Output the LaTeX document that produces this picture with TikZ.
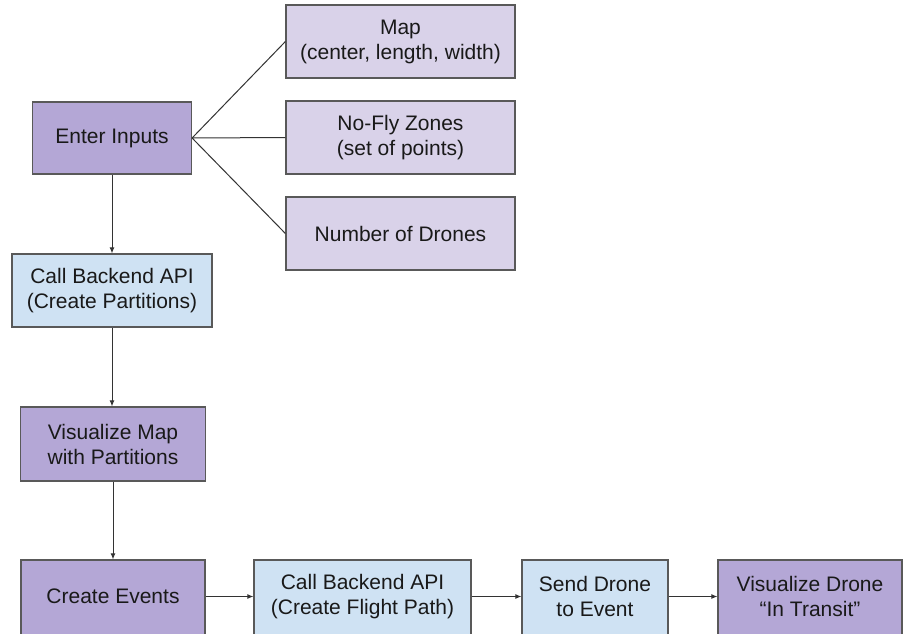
\documentclass[tikz,border=0pt]{standalone}
\usepackage{fontspec}
\setmainfont{Liberation Sans}
\usetikzlibrary{arrows.meta}
\definecolor{darkpurple}{HTML}{B4A7D6}
\definecolor{lightpurple}{HTML}{D9D2E9}
\definecolor{lightblue}{HTML}{CFE2F3}
\definecolor{edgegray}{HTML}{595959}
\definecolor{linegray}{HTML}{333333}
\begin{document}
\begin{tikzpicture}[x=1pt,y=-1pt,
  box/.style={draw=edgegray, line width=1.2pt, inner sep=0pt, align=center,
    font=\fontsize{21}{25}\selectfont, text=black!90},
  dbox/.style={box, fill=darkpurple},
  pbox/.style={box, fill=lightpurple},
  bbox/.style={box, fill=lightblue},
  conn/.style={draw=linegray, line width=1pt},
  arr/.style={conn, -{Latex[length=6pt,width=5pt]}}]
\fill[white] (0,0) rectangle (907,633);
\useasboundingbox (0,0) rectangle (907,633);
% right column inputs
\node[pbox, minimum width=229pt, minimum height=73pt] (map) at (400.5,41.5) {Map\\(center, length, width)};
\node[pbox, minimum width=229pt, minimum height=73pt] (nofly) at (400.5,137.5) {No-Fly Zones\\(set of points)};
\node[pbox, minimum width=229pt, minimum height=73pt] (num) at (400.5,233.5) {Number of Drones};
% left column
\node[dbox, minimum width=159pt, minimum height=72pt] (enter) at (112,138) {Enter Inputs};
\node[bbox, minimum width=200pt, minimum height=73pt] (cbp) at (112,290.5) {Call Backend API\\(Create Partitions)};
\node[dbox, minimum width=185pt, minimum height=74pt] (vmap) at (113,444) {Visualize Map\\with Partitions};
% bottom row (cut off at the lower edge)
\node[dbox, minimum width=184pt, minimum height=78pt] (cev) at (113,599) {};
\node[bbox, minimum width=217pt, minimum height=78pt] (cbf) at (362.5,599) {};
\node[bbox, minimum width=146pt, minimum height=78pt] (send) at (595,599) {};
\node[dbox, minimum width=184pt, minimum height=78pt] (vdr) at (810,599) {};
\node[box, draw=none] (cevt) at (113,596.5) {Create Events};
\node[box, draw=none] (cbft) at (362.5,596.5) {Call Backend API\\(Create Flight Path)};
\node[box, draw=none] (sendt) at (595,596.5) {Send Drone\\to Event};
\node[box, draw=none] (vdrt) at (810,596.5) {Visualize Drone\\“In Transit”};
% connectors
\draw[conn] (enter.east) -- (map.west);
\draw[conn] (enter.east) -- (nofly.west);
\draw[conn] (enter.east) -- (num.west);
\draw[arr] (enter.south) -- (enter.south |- cbp.north);
\draw[arr] (cbp.south) -- (cbp.south |- vmap.north);
\draw[arr] (vmap.south) -- (vmap.south |- cev.north);
\draw[arr] (cev.east |- cevt) -- (cbf.west |- cevt);
\draw[arr] (cbf.east |- cevt) -- (send.west |- cevt);
\draw[arr] (send.east |- cevt) -- (vdr.west |- cevt);
\end{tikzpicture}
\end{document}
